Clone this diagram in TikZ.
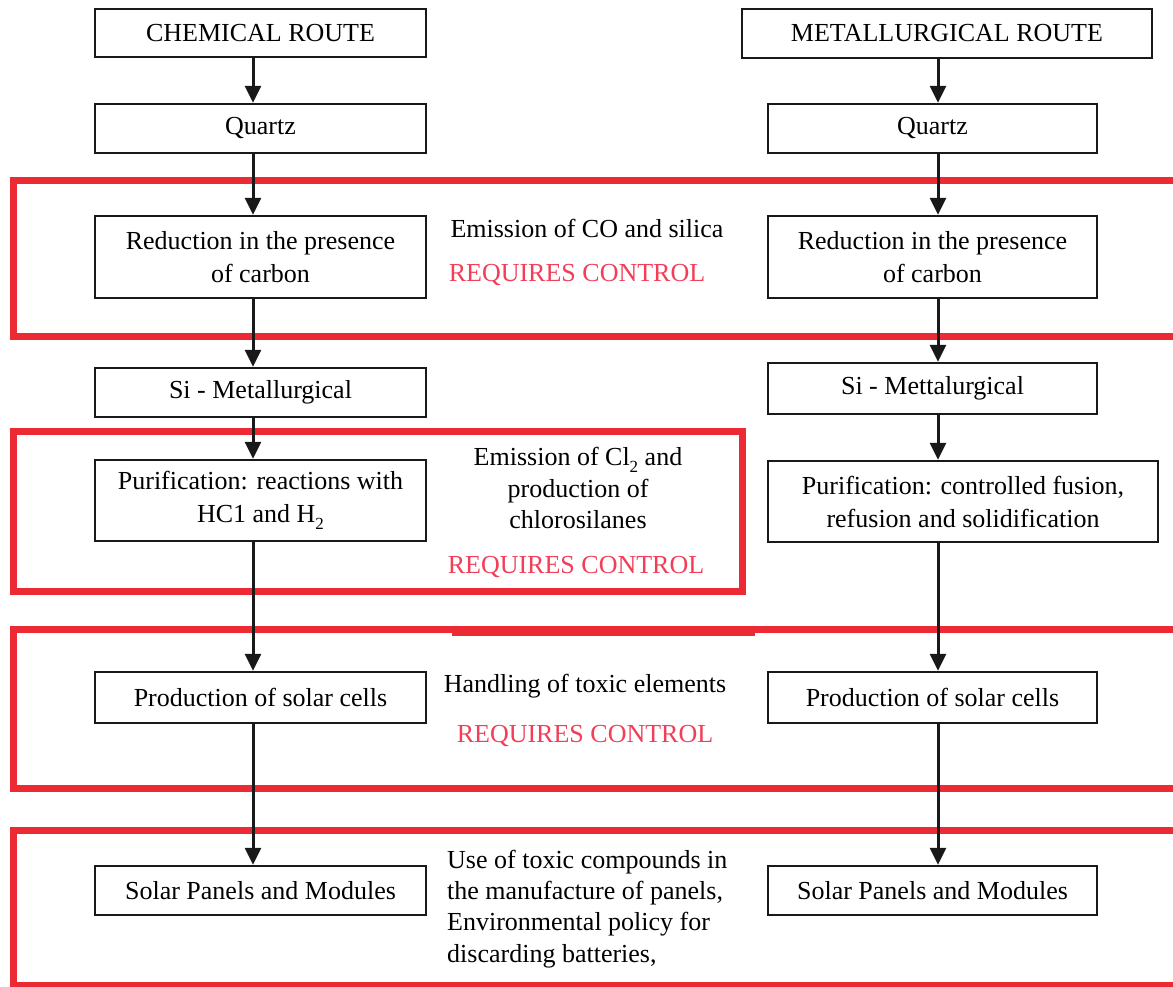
\documentclass[tikz,border=0pt]{standalone}
\usepackage{fontspec}
\setmainfont{Liberation Serif}
\usetikzlibrary{arrows.meta}
\definecolor{boxred}{RGB}{236,42,52}
\definecolor{txtred}{RGB}{242,62,88}
\definecolor{ink}{RGB}{25,25,25}
\newcommand{\lowsub}[1]{\raisebox{-0.28em}{\fontsize{17}{17}\selectfont #1}}
\begin{document}
\begin{tikzpicture}[x=1pt,y=-1pt,
  stepbox/.style={draw=ink, line width=2.4pt, inner sep=0pt, align=center, fill=white,
    font=\fontsize{26}{33}\selectfont},
  flow/.style={draw=ink, line width=3pt, -{Triangle[length=17pt,width=16pt]}},
  zone/.style={draw=boxred, line width=7pt},
  note/.style={font=\fontsize{26}{32}\selectfont, inner sep=0pt, anchor=base},
  notel/.style={note, anchor=base west},
  warn/.style={note, text=txtred}]
\useasboundingbox (0,0) rectangle (1173,987);
\clip (0,0) rectangle (1173,987);
\fill[white] (0,0) rectangle (1173,987);

% red control zones
\draw[zone] (13,180.5) rectangle (1190,336);
\draw[zone] (13,431) rectangle (742,591);
\draw[zone] (13,629.5) rectangle (1190,788);
\fill[boxred] (452,629) rectangle (755,636);
\draw[zone] (13,830) rectangle (1190,985);

\coordinate (L) at (253,0);
\coordinate (R) at (938,0);

% left column
\node[stepbox, minimum width=331pt, minimum height=48pt] (chem) at (260.5,33) {CHEMICAL ROUTE};
\node[stepbox, minimum width=331pt, minimum height=49pt] (q1) at (260.5,128.5) {Quartz};
\node[stepbox, minimum width=331pt, minimum height=82pt] (r1) at (260.5,257) {Reduction in the presence\\of carbon};
\node[stepbox, minimum width=331pt, minimum height=49pt] (s1) at (260.5,392.5) {Si - Metallurgical};
\node[stepbox, minimum width=331pt, minimum height=81pt] (p1) at (260.5,500.5) {Purification: reactions with\\HC1 and H\lowsub{2}};
\node[stepbox, minimum width=331pt, minimum height=51pt] (c1) at (260.5,697.5) {Production of solar cells};
\node[stepbox, minimum width=331pt, minimum height=49pt] (m1) at (260.5,890.5) {Solar Panels and Modules};

% right column
\node[stepbox, minimum width=410pt, minimum height=49pt] (met) at (947,33.5) {METALLURGICAL ROUTE};
\node[stepbox, minimum width=329pt, minimum height=49pt] (q2) at (932.5,128.5) {Quartz};
\node[stepbox, minimum width=329pt, minimum height=82pt] (r2) at (932.5,257) {Reduction in the presence\\of carbon};
\node[stepbox, minimum width=329pt, minimum height=51pt] (s2) at (932.5,388.5) {Si - Mettalurgical};
\node[stepbox, minimum width=390pt, minimum height=81pt] (p2) at (963,501.5) {Purification: controlled fusion,\\refusion and solidification};
\node[stepbox, minimum width=329pt, minimum height=51pt] (c2) at (932.5,697.5) {Production of solar cells};
\node[stepbox, minimum width=329pt, minimum height=49pt] (m2) at (932.5,890.5) {Solar Panels and Modules};

% connectors
\draw[flow] (chem.south -| L) -- (q1.north -| L);
\draw[flow] (q1.south -| L) -- (r1.north -| L);
\draw[flow] (r1.south -| L) -- (s1.north -| L);
\draw[flow] (s1.south -| L) -- (p1.north -| L);
\draw[flow] (p1.south -| L) -- (c1.north -| L);
\draw[flow] (c1.south -| L) -- (m1.north -| L);
\draw[flow] (met.south -| R) -- (q2.north -| R);
\draw[flow] (q2.south -| R) -- (r2.north -| R);
\draw[flow] (r2.south -| R) -- (s2.north -| R);
\draw[flow] (s2.south -| R) -- (p2.north -| R);
\draw[flow] (p2.south -| R) -- (c2.north -| R);
\draw[flow] (c2.south -| R) -- (m2.north -| R);

% annotations
\node[note] (a1) at (587,238) {Emission of CO and silica};
\node[warn] (w1) at (577,282) {REQUIRES CONTROL};
\node[note] (a2a) at (578,465) {Emission of Cl\lowsub{2} and};
\node[note] (a2b) at (578,497) {production of};
\node[note] (a2c) at (578,528) {chlorosilanes};
\node[warn] (w2) at (576,573) {REQUIRES CONTROL};
\node[note] (a3) at (585,692) {Handling of toxic elements};
\node[warn] (w3) at (585,742) {REQUIRES CONTROL};
\node[notel] (a4a) at (447,868) {Use of toxic compounds in};
\node[notel] (a4b) at (447,899) {the manufacture of panels,};
\node[notel] (a4c) at (447,930) {Environmental policy for};
\node[notel] (a4d) at (447,962) {discarding batteries,};
\end{tikzpicture}
\end{document}
